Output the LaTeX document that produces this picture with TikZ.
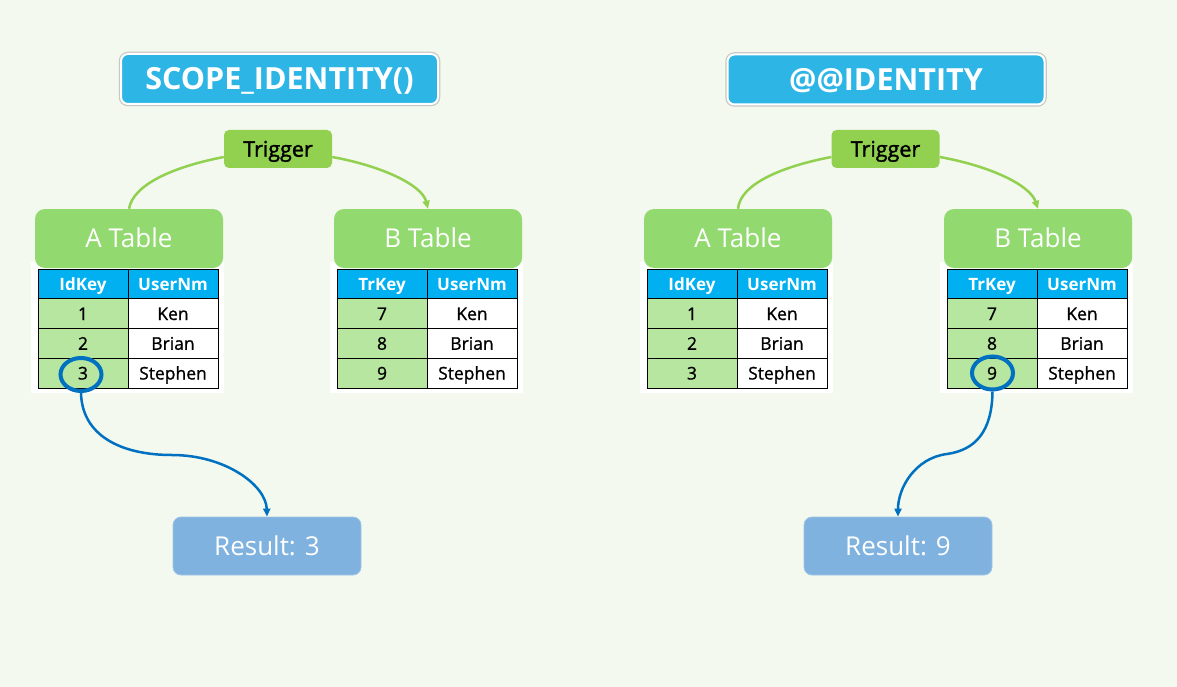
\documentclass[tikz,border=0pt]{standalone}
\usepackage{fontspec}
\setmainfont{Open Sans}
\newfontfamily\medfont{Open Sans}[FakeBold=1.6]
\newfontfamily\lightmed{Open Sans}[FakeBold=1]
\usetikzlibrary{arrows.meta,shapes.geometric}
\definecolor{bg}{RGB}{243,249,238}
\definecolor{titlec}{RGB}{45,181,230}
\definecolor{trig}{RGB}{146,208,80}
\definecolor{tabc}{RGB}{146,217,112}
\definecolor{hdr}{RGB}{0,176,240}
\definecolor{cellg}{RGB}{183,230,161}
\definecolor{resc}{RGB}{127,178,223}
\definecolor{blu}{RGB}{0,112,192}
\newcommand\drawtab[6]{%
  \fill[white] (#2-7,262) rectangle (#2+186,393);
  \node[tabbox] (#1t) at (#2+91,238.5) {#3 Table};
  \node[hcell] (#1h1) at (#2+45,284) {#4};
  \node[hcell] (#1h2) at (#2+135,284) {UserNm};
  \node[gcell] (#1a1) at (#2+45,313.75) {#5};
  \node[wcell] (#1b1) at (#2+135,313.75) {Ken};
  \node[gcell] (#1a2) at (#2+45,343.5) {#6};
  \node[wcell] (#1b2) at (#2+135,343.5) {Brian};
}
\begin{document}
\begin{tikzpicture}[x=1pt,y=-1pt,
  titlebox/.style={text height=21.5pt,text depth=0pt,inner sep=0pt,
    preaction={draw=black!22,line width=4.5pt,rounded corners=7pt},
    draw=white,line width=2pt,fill=titlec,rounded corners=7pt,
    minimum width=317pt,minimum height=50pt,text=white,
    font=\fontsize{30.5}{34}\selectfont\bfseries},
  trigbox/.style={text height=15.4pt,text depth=0pt,inner sep=0pt,
    fill=trig,rounded corners=5pt,minimum width=108pt,minimum height=38pt,
    font=\fontsize{21.5}{24}\medfont},
  tabbox/.style={text height=18.6pt,text depth=0pt,inner sep=0pt,
    fill=tabc,rounded corners=10pt,minimum width=188pt,minimum height=59pt,
    text=white,font=\fontsize{26}{28}\selectfont},
  cellbase/.style={text height=12.5pt,text depth=0pt,inner sep=0pt,
    draw=black,line width=0.8pt,minimum width=90pt,minimum height=29.75pt,
    font=\fontsize{17.5}{19}\lightmed},
  hcell/.style={cellbase,fill=hdr,text=white,font=\fontsize{17}{19}\selectfont\bfseries},
  gcell/.style={cellbase,fill=cellg},
  wcell/.style={cellbase,fill=white},
  resbox/.style={text height=18.6pt,text depth=0pt,inner sep=0pt,
    fill=resc,draw=resc!75!white,line width=0.8pt,rounded corners=8pt,
    minimum width=188pt,minimum height=58pt,text=white,
    font=\fontsize{26}{28}\selectfont},
  hilite/.style={draw=blu,line width=4pt,ellipse,minimum width=41pt,minimum height=33pt,inner sep=0pt},
  gline/.style={draw=trig,line width=2.5pt},
  bline/.style={draw=blu,line width=2.5pt},
  tip/.style={-{Triangle[length=8pt,width=7pt]}}
]
\useasboundingbox (0,0) rectangle (1177,687);
\fill[bg] (0,0) rectangle (1177,687);

% ---------- left panel ----------
\node[titlebox] (ttl1) at (279.5,79) {SCOPE\_IDENTITY()};
\node[trigbox] (trg1) at (278,149) {Trigger};
\drawtab{la}{38}{A}{IdKey}{1}{2}
\node[gcell] (laa3) at (83,373.25) {3};
\node[wcell] (lab3) at (173,373.25) {Stephen};
\drawtab{lb}{337}{B}{TrKey}{7}{8}
\node[gcell] (lba3) at (382,373.25) {9};
\node[wcell] (lbb3) at (472,373.25) {Stephen};
\node[hilite] (c1) at (81,374.5) {};
\node[resbox] (r1) at (267,546) {Result: 3};
\draw[gline] ([yshift=-8pt]trg1.west) .. controls (172,167) and (133,185) .. (lat.north);
\draw[gline,tip] ([yshift=-8pt]trg1.east) .. controls (382,166) and (422,185) .. (lbt.north);
\draw[bline,tip] (c1.south) .. controls (82,435) and (120,455) .. (172,455)
  .. controls (225,455) and (266,485) .. (r1.north);

% ---------- right panel ----------
\node[titlebox] (ttl2) at (886,79.5) {@@IDENTITY};
\node[trigbox] (trg2) at (885.5,149) {Trigger};
\drawtab{ra}{647}{A}{IdKey}{1}{2}
\node[gcell] (raa3) at (692,373.25) {3};
\node[wcell] (rab3) at (782,373.25) {Stephen};
\drawtab{rb}{947}{B}{TrKey}{7}{8}
\node[gcell] (rba3) at (992,373.25) {9};
\node[wcell] (rbb3) at (1082,373.25) {Stephen};
\node[hilite] (c2) at (992.5,373) {};
\node[resbox] (r2) at (898,546) {Result: 9};
\draw[gline] ([yshift=-8pt]trg2.west) .. controls (779,167) and (740,185) .. (rat.north);
\draw[gline,tip] ([yshift=-8pt]trg2.east) .. controls (990,166) and (1030,185) .. (rbt.north);
\draw[bline,tip] (c2.south) .. controls (992,432) and (975,450) .. (947,454)
  .. controls (915,458) and (898,488) .. (r2.north);
\end{tikzpicture}
\end{document}
